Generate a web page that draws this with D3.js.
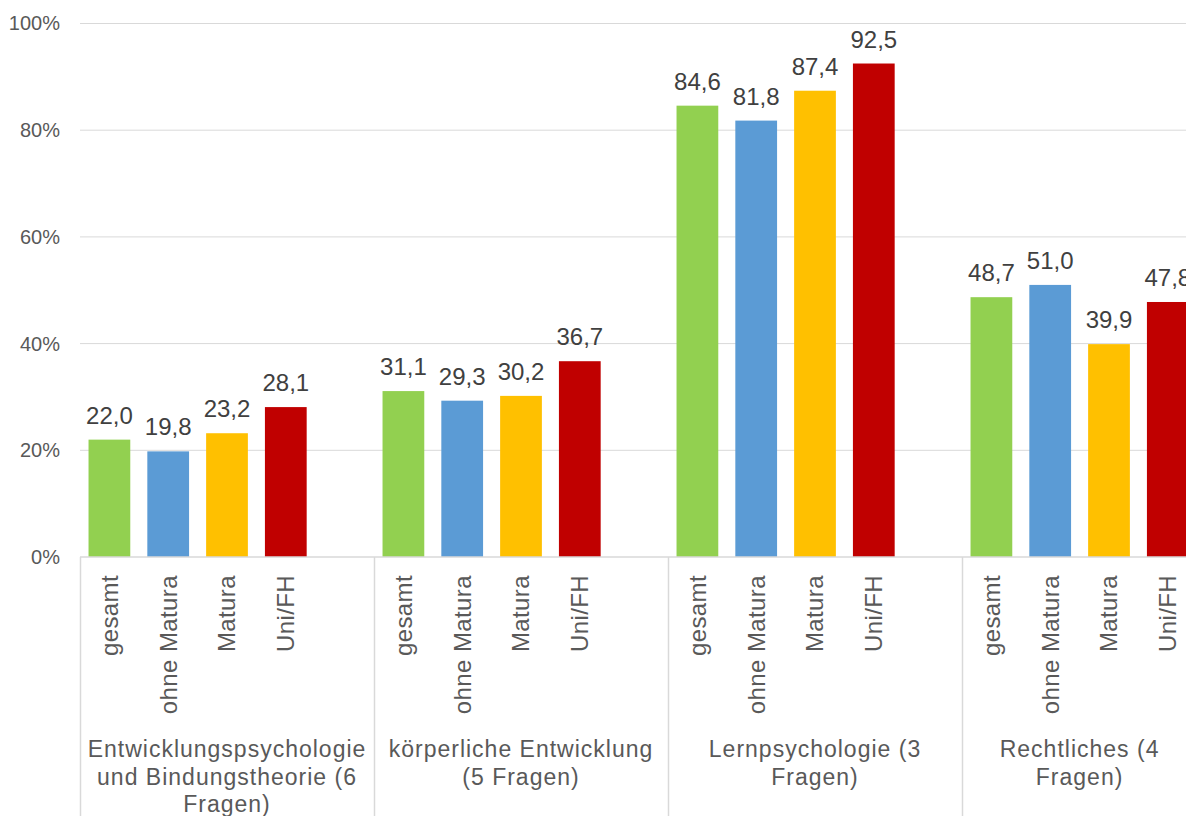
<!DOCTYPE html>
<html>
<head>
<meta charset="utf-8">
<script src="https://cdn.jsdelivr.net/npm/d3@7"></script>
<style>
  html, body { margin: 0; padding: 0; background: #ffffff; }
  svg { display: block; font-family: "Liberation Sans", Arial, sans-serif; }
</style>
</head>
<body>
<svg id="chart" width="1186" height="816"></svg>
<script>
// ---- data ----
const groups = ["Entwicklung", "Koerper", "Lern", "Recht"];
const groupLabels = [
  ["Entwicklungspsychologie", "und Bindungstheorie (6", "Fragen)"],
  ["körperliche Entwicklung", "(5 Fragen)"],
  ["Lernpsychologie (3", "Fragen)"],
  ["Rechtliches (4", "Fragen)"]
];
const subCategories = ["gesamt", "ohne Matura", "Matura", "Uni/FH"];
const gesamt     = [22.0, 31.1, 84.6, 48.7];
const ohneMatura = [19.8, 29.3, 81.8, 51.0];
const matura     = [23.2, 30.2, 87.4, 39.9];
const uniFH      = [28.1, 36.7, 92.5, 47.8];
const seriesValues = [gesamt, ohneMatura, matura, uniFH];
const colors = ["#92D050", "#5B9BD5", "#FFC000", "#C00000"];
const yTicks = [0, 20, 40, 60, 80, 100];

// ---- layout ----
const svg = d3.select("#chart");
const plotLeft = 80, plotTop = 23.5, plotBottom = 557;
const slot = 58.8;

// flat category axis: each group has its 4 sub-categories followed by an empty category (except the last)
const slotKeys = [];
const groupKeys = groups.map(() => []);
groups.forEach((g, gi) => {
  subCategories.forEach(s => { const k = g + "|" + s; slotKeys.push(k); groupKeys[gi].push(k); });
  if (gi < groups.length - 1) { const k = g + "|_blank"; slotKeys.push(k); groupKeys[gi].push(k); }
});
const pIn = 0.29, pOut = 0.145;
const x = d3.scaleBand().domain(slotKeys)
  .range([plotLeft, plotLeft + slot * (slotKeys.length - pIn + 2 * pOut)])
  .paddingInner(pIn).paddingOuter(pOut);
const y = d3.scaleLinear().domain([0, 100]).range([plotBottom, plotTop]);
const halfGap = (x.step() - x.bandwidth()) / 2;
const groupStart = gi => x(groupKeys[gi][0]) - halfGap;
const groupEnd = gi => x(groupKeys[gi][groupKeys[gi].length - 1]) + x.bandwidth() + halfGap;

const gridColor = "#d9d9d9";
const textColor = "#595959";

// gridlines
svg.append("g").selectAll("line").data(yTicks.filter(d => d > 0)).join("line")
  .attr("x1", plotLeft).attr("x2", 1186)
  .attr("y1", d => y(d)).attr("y2", d => y(d))
  .attr("stroke", gridColor).attr("stroke-width", 1);

// y axis labels
const yAxis = d3.axisLeft(y).tickValues(yTicks).tickFormat(d => d + "%").tickSize(0).tickPadding(20);
const yg = svg.append("g").attr("transform", `translate(${plotLeft},0)`).call(yAxis);
yg.select(".domain").remove();
yg.selectAll("text").attr("fill", textColor).style("font-size", "20px")
  .style("font-family", "'Liberation Sans', Arial, sans-serif");

// bars
const data = [];
groups.forEach((g, gi) => {
  subCategories.forEach((s, si) => {
    data.push({ key: g + "|" + s, g, gi, s, si, v: seriesValues[si][gi] });
  });
});

svg.append("g").selectAll("rect").data(data).join("rect")
  .attr("x", d => x(d.key))
  .attr("width", x.bandwidth())
  .attr("y", d => y(d.v))
  .attr("height", d => y(0) - y(d.v))
  .attr("fill", d => colors[d.si]);

// value labels
svg.append("g").selectAll("text").data(data).join("text")
  .attr("x", d => x(d.key) + x.bandwidth() / 2)
  .attr("y", d => y(d.v) - 16)
  .attr("text-anchor", "middle")
  .attr("fill", "#404040")
  .style("font-size", "24px")
  .text(d => d.v.toFixed(1).replace(".", ","));

// baseline axis line
svg.append("line")
  .attr("x1", plotLeft).attr("x2", 1186)
  .attr("y1", y(0)).attr("y2", y(0))
  .attr("stroke", gridColor).attr("stroke-width", 1.5);

// group dividers
svg.append("g").selectAll("line").data(groups).join("line")
  .attr("x1", (d, i) => groupStart(i) + 0.5).attr("x2", (d, i) => groupStart(i) + 0.5)
  .attr("y1", y(0)).attr("y2", 816)
  .attr("stroke", gridColor).attr("stroke-width", 1.5);

// rotated sub-category labels
svg.append("g").selectAll("text").data(data).join("text")
  .attr("transform", d => `translate(${x(d.key) + x.bandwidth() / 2},575) rotate(-90)`)
  .attr("dy", "0.35em")
  .attr("text-anchor", "end")
  .attr("fill", textColor)
  .style("font-size", "24px")
  .style("letter-spacing", "0.4px")
  .text(d => d.s);

// group labels
const gl = svg.append("g").selectAll("text").data(groups).join("text")
  .attr("y", 757)
  .attr("text-anchor", "middle")
  .attr("fill", textColor)
  .style("font-size", "23px")
  .style("letter-spacing", "1px");
gl.each(function(d, i) {
  const cx = (groupStart(i) + groupEnd(i)) / 2;
  d3.select(this).selectAll("tspan").data(groupLabels[i]).join("tspan")
    .attr("x", cx)
    .attr("dy", (t, j) => j === 0 ? 0 : 27.5)
    .text(t => t);
});
</script>
</body>
</html>
